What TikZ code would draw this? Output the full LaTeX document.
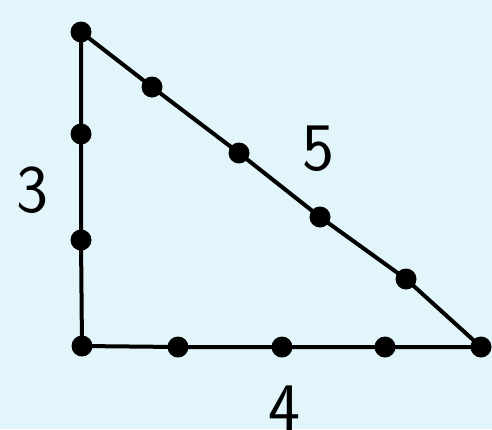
\documentclass[tikz,border=0pt]{standalone}
\usepackage{fontspec}
\begin{document}
\begin{tikzpicture}[x=1pt,y=-1pt,
  dot/.style={circle,fill=black,inner sep=0pt,minimum size=21pt},
  edge/.style={line width=4pt,black},
  lab/.style={font=\sffamily\fontsize{68}{68}\selectfont,inner sep=0pt}]
\definecolor{paper}{RGB}{226,245,250}
\fill[paper] (0,0) rectangle (492,429);
\useasboundingbox (0,0) rectangle (492,429);
% vertices and dots
\node[dot] (A) at (81,32) {};
\node[dot] (L1) at (81,134) {};
\node[dot] (L2) at (81,240) {};
\node[dot] (B) at (82,346) {};
\node[dot] (b1) at (178,347) {};
\node[dot] (b2) at (282,347) {};
\node[dot] (b3) at (385,347) {};
\node[dot] (C) at (481,347) {};
\node[dot] (h1) at (152,87) {};
\node[dot] (h2) at (239,153) {};
\node[dot] (h3) at (320,217) {};
\node[dot] (h4) at (406,279) {};
% edges
\draw[edge] (A.center) -- (L1.center) -- (L2.center) -- (B.center);
\draw[edge] (B.center) -- (b1.center) -- (b2.center) -- (b3.center) -- (C.center);
\draw[edge] (A.center) -- (h1.center) -- (h2.center) -- (h3.center) -- (h4.center) -- (C.center);
% labels
\node[lab] (t3) at (32,190) {3};
\node[lab] (t5) at (318,149) {5};
\node[lab] (t4) at (284,408) {4};
\end{tikzpicture}
\end{document}
